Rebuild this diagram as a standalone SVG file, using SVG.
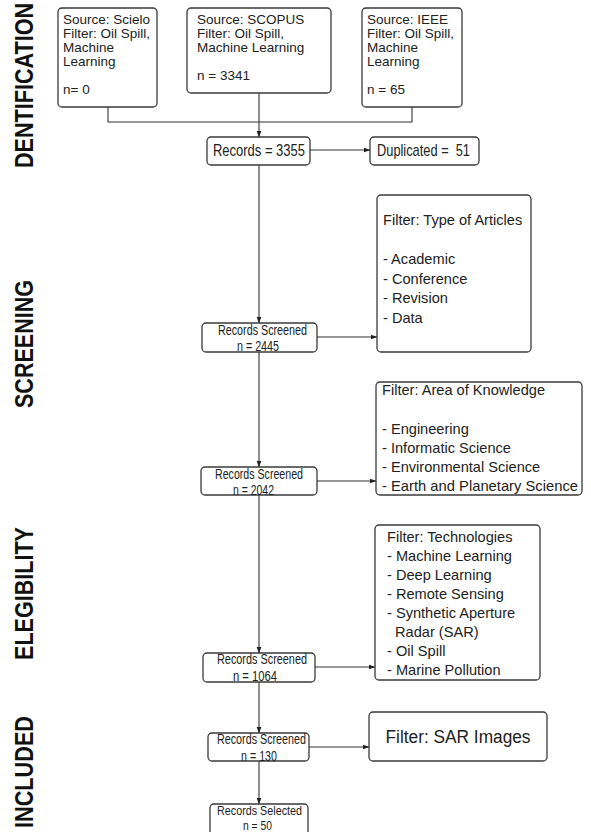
<svg xmlns="http://www.w3.org/2000/svg" width="591" height="832" viewBox="0 0 591 832">
<style>
.box{fill:#fff;stroke:#3a3a3a;stroke-width:1.3}
.ln{fill:none;stroke:#333;stroke-width:1.1}
text{font-family:"Liberation Sans",Arial,sans-serif;fill:#222;white-space:pre}
.src{font-size:13.5px}
.big{font-size:17px}
.sm{font-size:14px}
.flt{font-size:14.6px}
.side{font-size:25px;font-weight:bold;fill:#111}
</style>
<defs>
<marker id="ah" markerWidth="7" markerHeight="6" refX="6.5" refY="3" orient="auto" markerUnits="userSpaceOnUse">
<path d="M0,0.5 L7,3 L0,5.5 Z" fill="#222"/>
</marker>
</defs>
<rect width="591" height="832" fill="#fff"/>

<g id="labels">
<text class="side" transform="translate(33,168) rotate(-90)" textLength="165" lengthAdjust="spacingAndGlyphs">DENTIFICATION</text>
<text class="side" transform="translate(33,408) rotate(-90)" textLength="128" lengthAdjust="spacingAndGlyphs">SCREENING</text>
<text class="side" transform="translate(33,660) rotate(-90)" textLength="133" lengthAdjust="spacingAndGlyphs">ELEGIBILITY</text>
<text class="side" transform="translate(33,828) rotate(-90)" textLength="112" lengthAdjust="spacingAndGlyphs">INCLUDED</text>
</g>

<g id="connectors">
<path class="ln" d="M108,107 V122 H412 V107"/>
<path class="ln" d="M259,93 V137" marker-end="url(#ah)"/>
<path class="ln" d="M310,150 H370" marker-end="url(#ah)"/>
<path class="ln" d="M259,165 V323" marker-end="url(#ah)"/>
<path class="ln" d="M317,337 H377" marker-end="url(#ah)"/>
<path class="ln" d="M259,352 V467" marker-end="url(#ah)"/>
<path class="ln" d="M317,481 H376" marker-end="url(#ah)"/>
<path class="ln" d="M259,495 V653" marker-end="url(#ah)"/>
<path class="ln" d="M315,667 H375" marker-end="url(#ah)"/>
<path class="ln" d="M259,682 V733" marker-end="url(#ah)"/>
<path class="ln" d="M309,747 H369" marker-end="url(#ah)"/>
<path class="ln" d="M259,761 V804" marker-end="url(#ah)"/>
</g>

<g id="scielo">
<rect class="box" x="58" y="8" width="99" height="99" rx="4"/>
<text class="src" x="63" y="24">Source: Scielo</text>
<text class="src" x="63" y="38">Filter: Oil Spill,</text>
<text class="src" x="63" y="52">Machine</text>
<text class="src" x="63" y="66">Learning</text>
<text class="src" x="63" y="94">n= 0</text>
</g>

<g id="scopus">
<rect class="box" x="187" y="8" width="144" height="85" rx="4"/>
<text class="src" x="197" y="24">Source: SCOPUS</text>
<text class="src" x="197" y="38">Filter: Oil Spill,</text>
<text class="src" x="197" y="52">Machine Learning</text>
<text class="src" x="197" y="80">n = 3341</text>
</g>

<g id="ieee">
<rect class="box" x="362" y="8" width="100" height="99" rx="4"/>
<text class="src" x="367" y="24">Source: IEEE</text>
<text class="src" x="367" y="38">Filter: Oil Spill,</text>
<text class="src" x="367" y="52">Machine</text>
<text class="src" x="367" y="66">Learning</text>
<text class="src" x="367" y="94">n = 65</text>
</g>

<g id="records">
<rect class="box" x="207" y="137" width="103" height="28" rx="4"/>
<text class="big" x="213" y="156" textLength="92" lengthAdjust="spacingAndGlyphs">Records = 3355</text>
</g>

<g id="duplicated">
<rect class="box" x="370" y="137" width="109" height="28" rx="4"/>
<text class="big" x="377" y="156" textLength="93" lengthAdjust="spacingAndGlyphs">Duplicated =  51</text>
</g>

<g id="screened1">
<rect class="box" x="202" y="323" width="115" height="29" rx="4"/>
<text class="sm" x="218" y="335" textLength="89" lengthAdjust="spacingAndGlyphs">Records Screened</text>
<text class="sm" x="237" y="351" textLength="42" lengthAdjust="spacingAndGlyphs">n = 2445</text>
</g>

<g id="filter1">
<rect class="box" x="377" y="195" width="154" height="157" rx="4"/>
<text class="flt" x="383" y="225">Filter: Type of Articles</text>
<text class="flt" x="383" y="264">- Academic</text>
<text class="flt" x="383" y="284">- Conference</text>
<text class="flt" x="383" y="303">- Revision</text>
<text class="flt" x="383" y="323">- Data</text>
</g>

<g id="screened2">
<rect class="box" x="201" y="467" width="116" height="28" rx="4"/>
<text class="sm" x="215" y="479" textLength="88" lengthAdjust="spacingAndGlyphs">Records Screened</text>
<text class="sm" x="233" y="495" textLength="41" lengthAdjust="spacingAndGlyphs">n = 2042</text>
</g>

<g id="filter2">
<rect class="box" x="376" y="382" width="206" height="113" rx="4"/>
<text class="flt" x="382" y="395">Filter: Area of Knowledge</text>
<text class="flt" x="382" y="434">- Engineering</text>
<text class="flt" x="382" y="453">- Informatic Science</text>
<text class="flt" x="382" y="472">- Environmental Science</text>
<text class="flt" x="382" y="491" textLength="196" lengthAdjust="spacingAndGlyphs">- Earth and Planetary Science</text>
</g>

<g id="screened3">
<rect class="box" x="203" y="653" width="112" height="29" rx="4"/>
<text class="sm" x="217" y="664" textLength="90" lengthAdjust="spacingAndGlyphs">Records Screened</text>
<text class="sm" x="233" y="681" textLength="44" lengthAdjust="spacingAndGlyphs">n = 1064</text>
</g>

<g id="filter3">
<rect class="box" x="375" y="525" width="165" height="155" rx="4"/>
<text class="flt" x="387" y="542">Filter: Technologies</text>
<text class="flt" x="387" y="561">- Machine Learning</text>
<text class="flt" x="387" y="580">- Deep Learning</text>
<text class="flt" x="387" y="599">- Remote Sensing</text>
<text class="flt" x="387" y="618">- Synthetic Aperture</text>
<text class="flt" x="395" y="637">Radar (SAR)</text>
<text class="flt" x="387" y="656">- Oil Spill</text>
<text class="flt" x="387" y="675">- Marine Pollution</text>
</g>

<g id="screened4">
<rect class="box" x="208" y="733" width="101" height="28" rx="4"/>
<text class="sm" x="217" y="744" textLength="89" lengthAdjust="spacingAndGlyphs">Records Screened</text>
<text class="sm" x="241" y="761" textLength="36" lengthAdjust="spacingAndGlyphs">n = 130</text>
</g>

<g id="filter4">
<rect class="box" x="369" y="712" width="178" height="49" rx="4"/>
<text x="458" y="743" text-anchor="middle" style="font-size:18px" textLength="145" lengthAdjust="spacingAndGlyphs">Filter: SAR Images</text>
</g>

<g id="selected">
<rect class="box" x="210" y="804" width="98" height="32" rx="4"/>
<text class="sm" x="217" y="815" style="font-size:13px" textLength="85" lengthAdjust="spacingAndGlyphs">Records Selected</text>
<text class="sm" x="243" y="830" style="font-size:13px" textLength="29" lengthAdjust="spacingAndGlyphs">n = 50</text>
</g>
</svg>
